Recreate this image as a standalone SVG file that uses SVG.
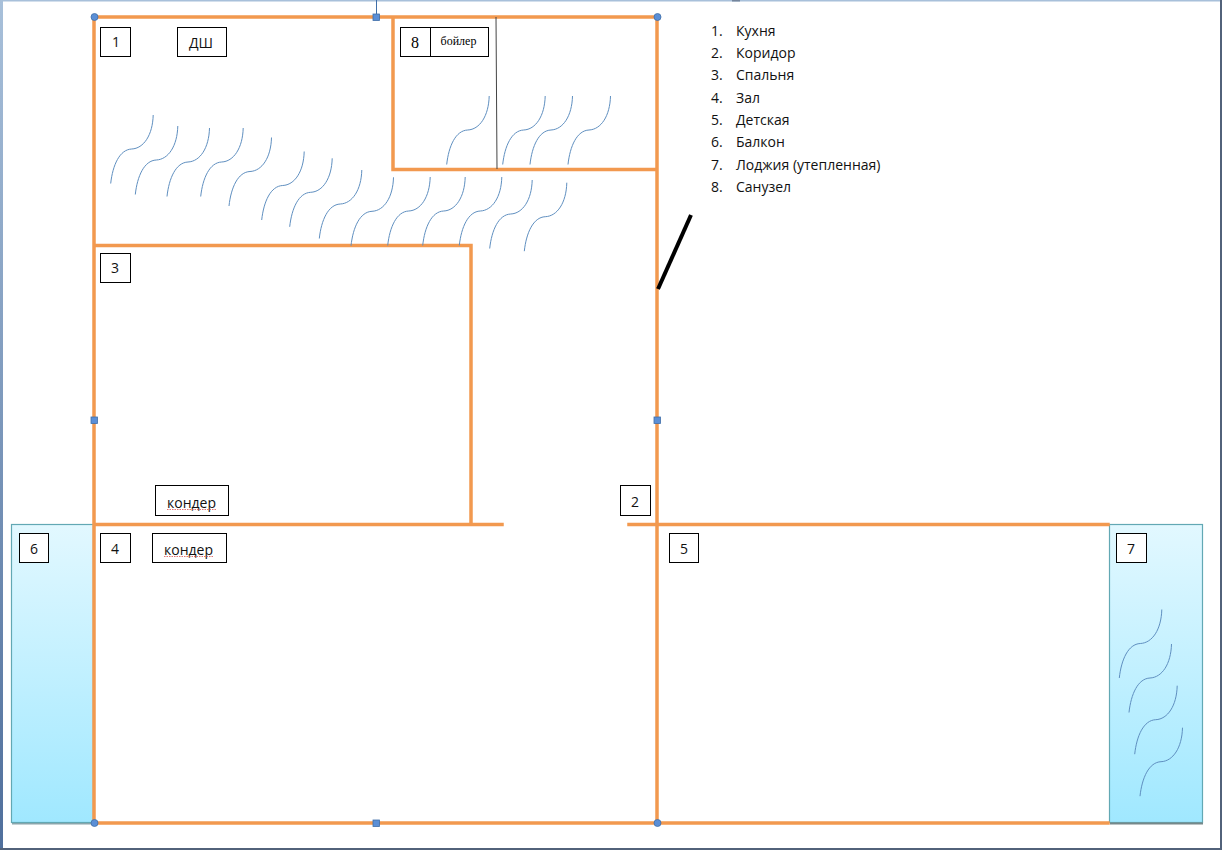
<svg xmlns="http://www.w3.org/2000/svg" xmlns:xlink="http://www.w3.org/1999/xlink" width="1222" height="850" viewBox="0 0 1222 850">
<style>
.wall{fill:none;stroke:#f2994f;stroke-width:3.5;stroke-linecap:square}
.wave{fill:none;stroke:#5f8fc0;stroke-width:1}
.box{fill:#fff;stroke:#000;stroke-width:1}
.t{font-family:"Open Sans","Liberation Sans",sans-serif;font-size:14px;fill:#111;text-anchor:middle}
.li{font-family:"Open Sans","Liberation Sans",sans-serif;font-size:14px;fill:#111}
.hr{fill:#5b8fd6;stroke:#3f6ea8;stroke-width:.8}
.sq{fill:#5b8fd6;stroke:#3f6ea8;stroke-width:.8}
.glass{fill:url(#glass);stroke:#62a8b4;stroke-width:1.2}
.sp{fill:none;stroke:#d9534f;stroke-width:.8;stroke-dasharray:1.500 1}
</style>
<defs>
<linearGradient id="glass" x1="0" y1="0" x2="0" y2="1"><stop offset="0" stop-color="#e2f8ff"/><stop offset="1" stop-color="#a0e8ff"/></linearGradient>
<linearGradient id="side" x1="0" y1="0" x2="0" y2="1"><stop offset="0" stop-color="#a8c0da"/><stop offset="1" stop-color="#4f6f9c"/></linearGradient>
<path id="w" d="M0 68.500C2 50 9 34.500 21 34C33 33.500 42 20 42.500 0"/>
</defs>
<rect width="1222" height="850" fill="#fff"/>
<g id="frame">
<rect x="0" y="0" width="1222" height="1.500" fill="#a8c0da"/>
<rect x="0" y="0" width="3" height="850" fill="url(#side)"/>
<rect x="1220" y="0" width="2" height="850" fill="#52627a"/>
<rect x="0" y="848" width="1222" height="2" fill="#52627a"/>
<rect x="732" y="0" width="8" height="1.500" fill="#75859c"/>
</g>
<g id="balcony-6"><rect x="11.500" y="524.500" width="82" height="298" class="glass"/><rect x="12" y="823" width="82" height="1.500" fill="#8aa6ac"/></g>
<g id="loggia-7"><rect x="1109.500" y="524.500" width="93" height="298" class="glass"/><rect x="1110" y="822.500" width="93" height="2" fill="#76888a"/></g>
<g id="connectors">
<path class="wall" d="M94 17H657V823H94ZM393 17V169.500H657M94 245.500H471V524.500M94 524.500H502M629 524.500H1108M659 823H1108"/>
<path d="M658 289L691 215" fill="none" stroke="#000" stroke-width="4"/>
<path d="M496 17L497 169" fill="none" stroke="#444" stroke-width="1"/>
<path d="M376.500 0V14" fill="none" stroke="#3f6ea8" stroke-width="1"/>
</g>
<g id="waves" class="wave">
<use xlink:href="#w" x="110.700" y="115"/>
<use xlink:href="#w" x="135.300" y="126"/>
<use xlink:href="#w" x="167" y="128"/>
<use xlink:href="#w" x="200.700" y="128"/>
<use xlink:href="#w" x="229" y="137.500"/>
<use xlink:href="#w" x="261.700" y="151.500"/>
<use xlink:href="#w" x="289.700" y="158.300"/>
<use xlink:href="#w" x="319.300" y="170"/>
<use xlink:href="#w" x="351" y="177.300"/>
<use xlink:href="#w" x="387.700" y="177"/>
<use xlink:href="#w" x="422.700" y="177"/>
<use xlink:href="#w" x="459.300" y="177"/>
<use xlink:href="#w" x="489.700" y="180"/>
<use xlink:href="#w" x="524.300" y="182.700"/>
<use xlink:href="#w" x="446.700" y="96"/>
<use xlink:href="#w" x="502.700" y="96"/>
<use xlink:href="#w" x="530" y="96"/>
<use xlink:href="#w" x="568" y="96"/>
<use xlink:href="#w" x="1119.300" y="609.500"/>
<use xlink:href="#w" x="1129" y="644"/>
<use xlink:href="#w" x="1134.700" y="685.700"/>
<use xlink:href="#w" x="1140" y="727.700"/>
</g>
<g id="handles">
<circle class="hr" cx="94.500" cy="17" r="3.500"/><circle class="hr" cx="657.500" cy="17" r="3.500"/><circle class="hr" cx="94.500" cy="823" r="3.500"/><circle class="hr" cx="657.500" cy="823" r="3.500"/>
<rect class="sq" x="373" y="14" width="6.500" height="6.500"/><rect class="sq" x="373" y="820" width="6.500" height="6.500"/><rect class="sq" x="91" y="417" width="6.500" height="6.500"/><rect class="sq" x="654" y="417" width="6.500" height="6.500"/>
</g>
<g id="n1"><rect class="box" x="100.500" y="27.500" width="30" height="29"/><text class="t" x="116" y="47">1</text></g>
<g id="n-dsh"><rect class="box" x="177.500" y="27.500" width="49" height="29"/><text class="t" x="201" y="48">ДШ</text></g>
<g id="n8"><rect class="box" x="400.500" y="27.500" width="88" height="29"/><path d="M430.500 27.500V56.500" stroke="#000" fill="none"/><text x="415" y="48" text-anchor="middle" font-family="Liberation Serif,serif" font-size="16" fill="#000">8</text><text x="458.500" y="44.500" text-anchor="middle" font-family="Liberation Serif,serif" font-size="12" fill="#000">бойлер</text></g>
<g id="n3"><rect class="box" x="100.500" y="253.500" width="30" height="29"/><text class="t" x="115" y="273">3</text></g>
<g id="n-k1"><rect class="box" x="155.500" y="485.500" width="73" height="30"/><text class="t" x="191.500" y="507.500">кондер</text><path class="sp" d="M167 509.500H216"/></g>
<g id="n2"><rect class="box" x="620.500" y="485.500" width="30" height="30"/><text class="t" x="635" y="507">2</text></g>
<g id="n6"><rect class="box" x="19.500" y="533.500" width="29" height="29"/><text class="t" x="34" y="554">6</text></g>
<g id="n4"><rect class="box" x="100.500" y="533.500" width="30" height="29"/><text class="t" x="115" y="554">4</text></g>
<g id="n-k2"><rect class="box" x="152.500" y="533.500" width="74" height="29"/><text class="t" x="188.500" y="554.500">кондер</text><path class="sp" d="M164 556.500H213"/></g>
<g id="n5"><rect class="box" x="669.500" y="533.500" width="29" height="29"/><text class="t" x="684" y="554">5</text></g>
<g id="n7"><rect class="box" x="1116.500" y="533.500" width="30" height="29"/><text class="t" x="1131" y="554">7</text></g>
<g id="legend" class="li">
<text x="711" y="36">1.</text><text x="736" y="36">Кухня</text>
<text x="711" y="58">2.</text><text x="736" y="58">Коридор</text>
<text x="711" y="80">3.</text><text x="736" y="80">Спальня</text>
<text x="711" y="103">4.</text><text x="736" y="103">Зал</text>
<text x="711" y="125">5.</text><text x="736" y="125">Детская</text>
<text x="711" y="147">6.</text><text x="736" y="147">Балкон</text>
<text x="711" y="170">7.</text><text x="736" y="170">Лоджия (утепленная)</text>
<text x="711" y="192">8.</text><text x="736" y="192">Санузел</text>
</g>
</svg>
